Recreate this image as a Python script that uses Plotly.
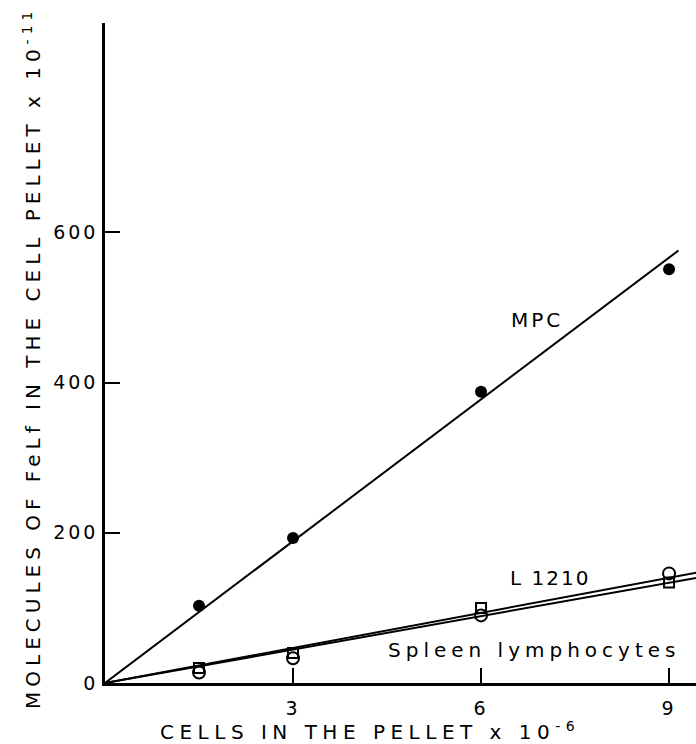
import plotly.graph_objects as go

# Cells in the pellet (x 10^-6)
cells = [1.5, 3, 6, 9]

# Molecules of FeLf bound (x 10^-11)
mpc = [103, 193, 388, 551]
l1210 = [14, 33, 90, 146]
spleen = [20, 40, 100, 134]

# Fitted regression lines (end points)
mpc_fit_x = [0, 9.15]
mpc_fit_y = [0, 576]
l1210_fit_x = [0, 9.5]
l1210_fit_y = [0, 148]
spleen_fit_x = [0, 9.5]
spleen_fit_y = [0, 141]

x_ticks = [3, 6, 9]
y_ticks = [0, 200, 400, 600]

FONT = "DejaVu Sans"
INK = "#000000"


def spaced(text, px):
    return f'<span style="letter-spacing:{px}px">{text}</span>'


fig = go.Figure()

line_style = dict(color=INK, width=2)
for fx, fy in [(mpc_fit_x, mpc_fit_y), (l1210_fit_x, l1210_fit_y), (spleen_fit_x, spleen_fit_y)]:
    fig.add_trace(go.Scatter(x=fx, y=fy, mode="lines", line=line_style,
                             hoverinfo="skip", showlegend=False))

fig.add_trace(go.Scatter(x=cells, y=mpc, mode="markers", name="MPC",
                         marker=dict(symbol="circle", size=12, color=INK),
                         showlegend=False))
fig.add_trace(go.Scatter(x=cells, y=l1210, mode="markers", name="L 1210",
                         marker=dict(symbol="circle-open", size=12, color=INK,
                                     line=dict(width=2, color=INK)),
                         showlegend=False))
fig.add_trace(go.Scatter(x=cells, y=spleen, mode="markers", name="Spleen lymphocytes",
                         marker=dict(symbol="square-open", size=10, color=INK,
                                     line=dict(width=2, color=INK)),
                         showlegend=False))

fig.update_layout(
    width=696, height=744,
    margin=dict(l=105, r=0, t=23, b=61),
    paper_bgcolor="white", plot_bgcolor="white",
    font=dict(family=FONT, size=19, color=INK),
    xaxis=dict(range=[0, 9.43], showgrid=False, zeroline=False,
               showline=True, linecolor=INK, linewidth=2.5,
               ticks="inside", ticklen=15, tickwidth=2, tickcolor=INK,
               tickvals=x_ticks, ticktext=[spaced(str(v), 3) for v in x_ticks],
               ticklabelstandoff=6),
    yaxis=dict(range=[0, 879], showgrid=False, zeroline=False,
               showline=True, linecolor=INK, linewidth=2.5,
               ticks="inside", ticklen=15, tickwidth=2, tickcolor=INK,
               tickvals=y_ticks, ticktext=[spaced(str(v), 3) for v in y_ticks]),
)

# Axis titles
fig.add_annotation(
    xref="paper", yref="paper", x=(370 - 105) / 591, y=(683 - 731) / 660,
    text=spaced("CELLS IN THE PELLET x 10<sup>-6</sup>", 5.5),
    showarrow=False, font=dict(size=20), xanchor="center", yanchor="middle")
fig.add_annotation(
    xref="paper", yref="paper", x=(32 - 105) / 591, y=(683 - 358) / 660,
    text=spaced("MOLECULES OF FeLf IN THE CELL PELLET x 10<sup>-11</sup>", 5),
    textangle=-90, showarrow=False, font=dict(size=20),
    xanchor="center", yanchor="middle")

# Series labels
fig.add_annotation(x=6.9, y=483, text=spaced("MPC", 3), showarrow=False,
                   font=dict(size=20))
fig.add_annotation(x=7.1, y=140, text=spaced("L 1210", 2), showarrow=False,
                   font=dict(size=20))
fig.add_annotation(x=6.84, y=44, text=spaced("Spleen lymphocytes", 5), showarrow=False,
                   font=dict(size=20))

fig.write_html("out.html")
